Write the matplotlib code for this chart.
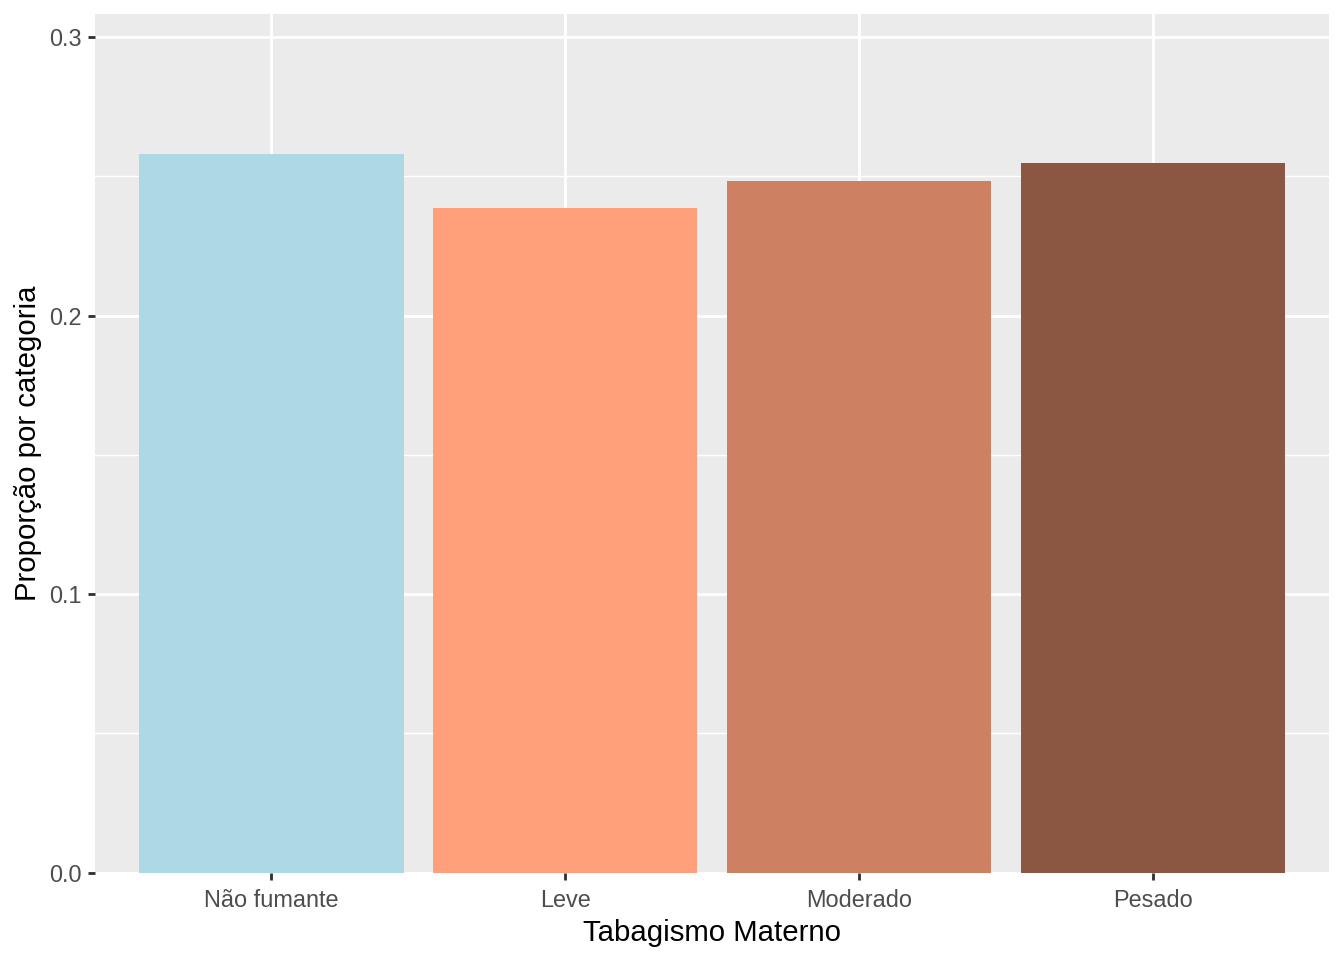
import matplotlib
matplotlib.use("Agg")
import matplotlib.pyplot as plt
import numpy as np

# proportions of each maternal smoking category
categorias = ["Não fumante", "Leve", "Moderado", "Pesado"]
proporcao = [0.258, 0.2386, 0.2483, 0.2548]
cores = ["#ADD8E6", "#FFA07A", "#CD8162", "#8B5742"]

yticks = [0.0, 0.1, 0.2, 0.3]
yminor = [0.05, 0.15, 0.25]

plt.rcParams["font.family"] = ["Liberation Sans", "DejaVu Sans"]

fig = plt.figure(figsize=(7, 5), dpi=192)
ax = fig.add_axes([95 / 1344, 1 - 872.5 / 960, (1329 - 95) / 1344, (872.5 - 14) / 960])
ax.set_facecolor("#EBEBEB")

x = np.arange(1, len(categorias) + 1)
ax.bar(x, proporcao, width=0.9, color=cores, zorder=3)

ax.set_xlim(0.4, 4.6)
ax.set_ylim(0, 0.3083)
ax.set_xticks(x)
ax.set_xticklabels(categorias)
ax.set_yticks(yticks)
ax.set_yticklabels([f"{v:.1f}" for v in yticks])
ax.set_yticks(yminor, minor=True)

ax.grid(which="major", color="white", linewidth=1.07, zorder=1)
ax.grid(which="minor", axis="y", color="white", linewidth=0.53, zorder=1)
ax.set_axisbelow(True)

for s in ax.spines.values():
    s.set_visible(False)

ax.tick_params(axis="both", which="major", length=2.75, width=1.07, color="#333333",
               labelsize=8.8, labelcolor="#4D4D4D", pad=2.2)
ax.tick_params(axis="x", which="major", pad=3.3)
ax.tick_params(axis="both", which="minor", length=0)

ax.set_xlabel("Tabagismo Materno", fontsize=11, color="black", labelpad=2.75)
ax.set_ylabel("Proporção por categoria", fontsize=11, color="black", labelpad=2.75)

fig.savefig("out.png", dpi=192)
